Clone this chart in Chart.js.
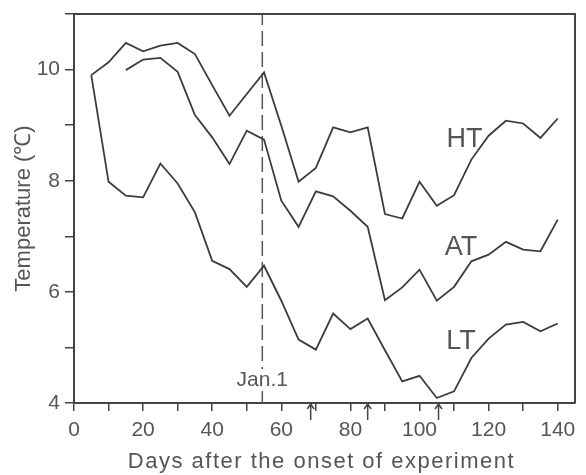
<!DOCTYPE html>
<html>
<head>
<meta charset="utf-8">
<script src="https://cdn.jsdelivr.net/npm/chart.js@4.4.1/dist/chart.umd.min.js"></script>
<style>
  html, body { margin: 0; padding: 0; background: #fff; }
  #wrap { width: 586px; height: 475px; }
</style>
</head>
<body>
<div id="wrap"><canvas id="myChart" width="586" height="475"></canvas></div>
<script>
// data
const days = [5, 10, 15, 20, 25, 30, 35, 40, 45, 50, 55, 60, 65, 70, 75, 80, 85, 90, 95, 100, 105, 110, 115, 120, 125, 130, 135, 140];
const htTemp = [9.90, 10.13, 10.48, 10.33, 10.43, 10.48, 10.28, 9.72, 9.17, 9.56, 9.95, 8.99, 7.98, 8.23, 8.96, 8.87, 8.96, 7.40, 7.32, 7.98, 7.55, 7.74, 8.38, 8.81, 9.08, 9.03, 8.77, 9.12];
const atTemp = [null, null, 9.99, 10.18, 10.21, 9.96, 9.18, 8.78, 8.30, 8.90, 8.74, 7.64, 7.17, 7.81, 7.72, 7.46, 7.17, 5.85, 6.08, 6.40, 5.84, 6.09, 6.55, 6.67, 6.90, 6.76, 6.73, 7.30];
const ltTemp = [9.90, 7.98, 7.73, 7.70, 8.31, 7.95, 7.43, 6.56, 6.41, 6.09, 6.47, 5.84, 5.14, 4.96, 5.61, 5.33, 5.52, 4.95, 4.39, 4.49, 4.09, 4.21, 4.81, 5.16, 5.41, 5.46, 5.29, 5.43];

const xTicks = [0, 10, 20, 30, 40, 50, 60, 70, 80, 90, 100, 110, 120, 130, 140];
const seriesNames = ['HT', 'AT', 'LT'];
const janFirst = 54.5;            // day of Jan.1 (dashed line)
const arrowDays = [68.5, 85, 105.5];

const lineColor = '#3c3c3c';
const textColor = '#555';
const fontFam = '"Liberation Sans", Arial, sans-serif';

function toPoints(vals) {
    return days.map((d, i) => ({ x: d, y: vals[i] }));
}

// frame, labels, Jan.1 text, arrows and x title
const extras = {
    id: 'extras',
    afterDatasetsDraw(chart) {
        const ctx = chart.ctx;
        const a = chart.chartArea;
        const xs = chart.scales.x;
        const ys = chart.scales.y;
        ctx.save();
        // top and right frame
        ctx.strokeStyle = '#444';
        ctx.lineWidth = 2;
        ctx.beginPath();
        ctx.moveTo(a.left, a.top);
        ctx.lineTo(a.right, a.top);
        ctx.lineTo(a.right, a.bottom);
        ctx.stroke();

        // series labels
        ctx.fillStyle = textColor;
        ctx.font = '27px ' + fontFam;
        ctx.textAlign = 'center';
        ctx.textBaseline = 'middle';
        const labelPos = [[113, 8.74], [112, 6.80], [112, 5.11]];
        seriesNames.forEach((n, i) => {
            ctx.fillText(n, xs.getPixelForValue(labelPos[i][0]), ys.getPixelForValue(labelPos[i][1]));
        });

        // Jan.1
        ctx.font = '21px ' + fontFam;
        const jx = xs.getPixelForValue(janFirst);
        const jy = ys.getPixelForValue(4.41);
        const w = ctx.measureText('Jan.1').width;
        ctx.fillStyle = '#fff';
        ctx.fillRect(jx - w / 2 - 1, jy - 11, w + 2, 22);
        ctx.fillStyle = textColor;
        ctx.fillText('Jan.1', jx, jy);

        // arrows under the x axis
        ctx.strokeStyle = '#444';
        ctx.lineWidth = 1.5;
        arrowDays.forEach(d => {
            const px = xs.getPixelForValue(d);
            const top = a.bottom + 1;
            ctx.beginPath();
            ctx.moveTo(px, top + 16);
            ctx.lineTo(px, top);
            ctx.moveTo(px - 3.5, top + 5);
            ctx.lineTo(px, top);
            ctx.lineTo(px + 3.5, top + 5);
            ctx.stroke();
        });

        // x axis title (slightly spaced letters like the original)
        ctx.font = '22px ' + fontFam;
        ctx.letterSpacing = '1.5px';
        ctx.fillStyle = textColor;
        ctx.fillText('Days after the onset of experiment', (a.left + a.right) / 2 - 3, 462);
        ctx.restore();
    }
};

const lineStyle = {
    borderColor: lineColor,
    borderWidth: 1.8,
    pointRadius: 0,
    fill: false,
    tension: 0,
    spanGaps: false
};

new Chart(document.getElementById('myChart').getContext('2d'), {
    type: 'line',
    data: {
        datasets: [
            Object.assign({ label: 'HT', data: toPoints(htTemp) }, lineStyle),
            Object.assign({ label: 'AT', data: toPoints(atTemp) }, lineStyle),
            Object.assign({ label: 'LT', data: toPoints(ltTemp) }, lineStyle),
            {
                label: 'Jan.1',
                data: [{ x: janFirst, y: 4 }, { x: janFirst, y: 11 }],
                borderColor: '#555',
                borderWidth: 1.5,
                borderDash: [15, 6],
                pointRadius: 0
            }
        ]
    },
    options: {
        responsive: false,
        animation: false,
        layout: { padding: { top: 14, right: 11, left: 0, bottom: 0 } },
        plugins: {
            legend: { display: false },
            tooltip: { enabled: false }
        },
        scales: {
            x: {
                type: 'linear',
                min: 0,
                max: 145,
                afterFit: s => { s.height = 72; s.paddingLeft = 0; s.paddingRight = 0; },
                afterBuildTicks: s => {
                    s.ticks = xTicks.map(v => ({ value: v }));
                },
                ticks: {
                    autoSkip: false,
                    maxRotation: 0,
                    color: textColor,
                    font: { family: fontFam, size: 21 },
                    padding: 7,
                    callback: v => (v % 20 === 0 ? v : '')
                },
                grid: {
                    drawOnChartArea: false,
                    drawTicks: true,
                    tickLength: 8,
                    color: '#444',
                    lineWidth: 1.5
                },
                border: { color: '#444', width: 2 }
            },
            y: {
                min: 4,
                max: 11,
                afterFit: s => { s.width = 74; s.paddingTop = 0; s.paddingBottom = 0; },
                ticks: {
                    stepSize: 1,
                    color: textColor,
                    font: { family: fontFam, size: 21 },
                    padding: 5,
                    callback: v => (v % 2 === 0 && v < 11 ? v : '')
                },
                grid: {
                    drawOnChartArea: false,
                    drawTicks: true,
                    tickLength: 9,
                    color: '#444',
                    lineWidth: 1.5
                },
                border: { color: '#444', width: 2 },
                title: {
                    display: true,
                    text: 'Temperature (\u2103)',
                    color: textColor,
                    font: { family: fontFam, size: 22 },
                    padding: { top: 11, bottom: 0 }
                }
            }
        }
    },
    plugins: [extras]
});
</script>
</body>
</html>
